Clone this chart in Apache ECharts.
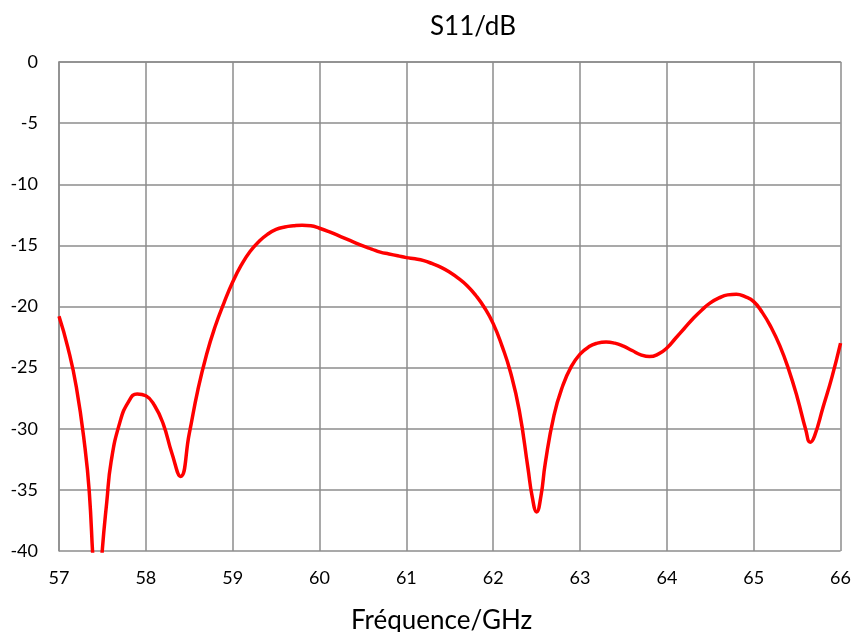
<!DOCTYPE html>
<html>
<head>
<meta charset="utf-8">
<script src="https://cdn.jsdelivr.net/npm/echarts@6/dist/echarts.min.js"></script>
<style>
  html, body { margin: 0; padding: 0; background: #fff; }
  #main { width: 854px; height: 632px; }
</style>
</head>
<body>
<div id="main"></div>
<script>
// frequency (GHz) and S11 (dB)
var freq = [57.0, 57.1, 57.2, 57.3, 57.35, 57.4, 57.45, 57.5, 57.55, 57.6, 57.7, 57.8, 57.9,
            58.0, 58.1, 58.2, 58.3, 58.4, 58.5, 58.6, 58.7, 58.8, 58.9,
            59.0, 59.1, 59.2, 59.3, 59.4, 59.5, 59.6, 59.7, 59.8, 59.9,
            60.0, 60.1, 60.2, 60.3, 60.4, 60.5, 60.6, 60.7, 60.8, 60.9,
            61.0, 61.1, 61.2, 61.3, 61.4, 61.5, 61.6, 61.7, 61.8, 61.9,
            62.0, 62.1, 62.2, 62.3, 62.4, 62.45, 62.5, 62.55, 62.6, 62.7, 62.8, 62.9,
            63.0, 63.1, 63.2, 63.3, 63.4, 63.5, 63.6, 63.7, 63.8, 63.9,
            64.0, 64.1, 64.2, 64.3, 64.4, 64.5, 64.6, 64.7, 64.8, 64.9,
            65.0, 65.1, 65.2, 65.3, 65.4, 65.5, 65.6, 65.65, 65.7, 65.8, 65.9, 66.0];
var s11 = [-20.8, -23.3, -26.6, -31.6, -35.3, -41.5, -45.0, -39.8, -36.0, -32.7, -29.5, -27.8, -27.15,
           -27.3, -28.1, -29.6, -32.0, -33.9, -30.4, -26.8, -23.9, -21.6, -19.7,
           -18.0, -16.6, -15.5, -14.7, -14.1, -13.7, -13.5, -13.4, -13.35, -13.4,
           -13.6, -13.85, -14.15, -14.45, -14.75, -15.05, -15.3, -15.55, -15.7, -15.85,
           -16.0, -16.1, -16.25, -16.5, -16.8, -17.2, -17.7, -18.3, -19.1, -20.1,
           -21.4, -23.2, -25.4, -28.5, -33.2, -35.6, -36.8, -35.5, -32.8, -28.9, -26.5, -24.9,
           -23.9, -23.3, -23.0, -22.9, -23.0, -23.25, -23.6, -23.95, -24.1, -23.9,
           -23.4, -22.6, -21.8, -21.0, -20.3, -19.7, -19.3, -19.05, -19.0, -19.2,
           -19.6, -20.5, -21.7, -23.2, -25.1, -27.4, -30.1, -31.1, -30.6, -28.2, -25.8, -23.0];

var points = [];
for (var i = 0; i < freq.length; i++) {
    points.push([freq[i], s11[i]]);
}

var dom = document.getElementById('main');
var myChart = echarts.init(dom);
var font = 'Lato, "Open Sans", sans-serif';
var gridColor = '#8c8c8c';

var option = {
    animation: false,
    backgroundColor: '#fff',
    title: [
        {
            text: 'S11/dB',
            left: 425,
            top: 9,
            textStyle: { fontFamily: font, fontSize: 26, fontWeight: 'normal', color: '#000' }
        },
        {
            text: 'Fréquence/GHz',
            left: 346,
            top: 603,
            textStyle: { fontFamily: font, fontSize: 26, fontWeight: 'normal', color: '#000' }
        }
    ],
    grid: {
        left: 59,
        right: 11,
        top: 62,
        bottom: 81
    },
    xAxis: {
        type: 'value',
        min: 57,
        max: 66,
        interval: 1,
        axisLine: { lineStyle: { color: gridColor, width: 1.5 } },
        axisTick: { show: false },
        axisLabel: { color: '#000', fontFamily: font, fontSize: 18, margin: 18 },
        splitLine: { show: true, lineStyle: { color: gridColor, width: 1.5 } }
    },
    yAxis: {
        type: 'value',
        min: -40,
        max: 0,
        interval: 5,
        axisLine: { show: true, lineStyle: { color: gridColor, width: 1.5 } },
        axisTick: { show: false },
        axisLabel: { color: '#000', fontFamily: font, fontSize: 18, margin: 21 },
        splitLine: { show: true, lineStyle: { color: gridColor, width: 1.5 } }
    },
    series: [
        {
            type: 'line',
            data: points,
            smooth: 0.5,
            showSymbol: false,
            clip: true,
            lineStyle: { color: '#ff0000', width: 3.5 }
        }
    ]
};

myChart.setOption(option);
</script>
</body>
</html>
